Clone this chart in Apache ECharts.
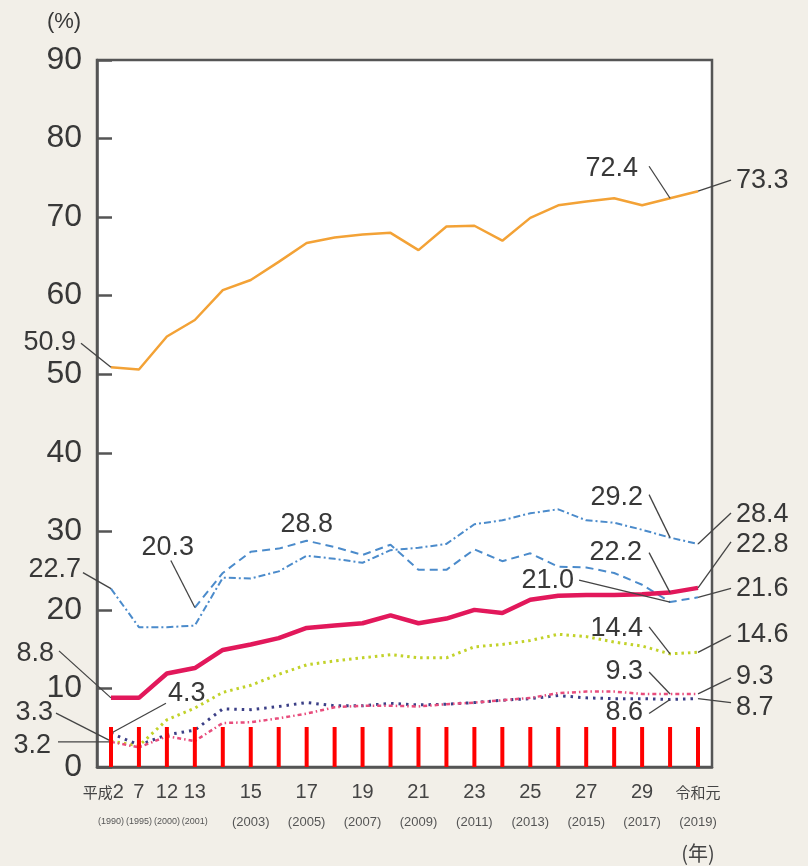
<!DOCTYPE html>
<html>
<head>
<meta charset="utf-8">
<script src="https://cdn.jsdelivr.net/npm/echarts@6.0.0/dist/echarts.min.js"></script>
<style>
html, body { margin: 0; padding: 0; background: #f2efe8; }
#chart { width: 808px; height: 866px; }
</style>
</head>
<body>
<div id="chart"></div>
<script>
// 年（カテゴリ）
const years = ['1990', '1995', '2000', '2001', '2002', '2003', '2004', '2005', '2006', '2007', '2008',
  '2009', '2010', '2011', '2012', '2013', '2014', '2015', '2016', '2017', '2018', '2019']
const eraLabels = ['平成2', '7', '12', '13', '14', '15', '16', '17', '18', '19', '20',
  '21', '22', '23', '24', '25', '26', '27', '28', '29', '30', '令和元']
const shownIdx = [0, 1, 2, 3, 5, 7, 9, 11, 13, 15, 17, 19, 21]
const yTicks = [0, 10, 20, 30, 40, 50, 60, 70, 80, 90]

// 系列データ (%)
const orange = [50.9, 50.6, 54.8, 56.9, 60.7, 62.0, 64.3, 66.7, 67.4, 67.8, 68.0, 65.8, 68.8, 68.9, 67.0, 69.9, 71.5, 72.0, 72.4, 71.5, 72.4, 73.3]
const blueA = [22.7, 17.8, 17.8, 18.0, 24.1, 24.0, 24.9, 26.9, 26.5, 26.0, 27.6, 27.9, 28.4, 30.9, 31.4, 32.3, 32.8, 31.4, 31.1, 30.2, 29.2, 28.4]
const blueB = [null, null, null, 20.3, 24.7, 27.4, 27.8, 28.8, 28.0, 27.0, 28.3, 25.1, 25.1, 27.7, 26.2, 27.2, 25.5, 25.4, 24.7, 23.2, 21.0, 21.6]
const red = [8.8, 8.8, 11.9, 12.6, 14.9, 15.6, 16.4, 17.7, 18.0, 18.3, 19.3, 18.3, 18.9, 20.0, 19.6, 21.3, 21.8, 21.9, 21.9, 22.0, 22.2, 22.8]
const green = [3.3, 2.7, 6.0, 7.5, 9.5, 10.4, 11.8, 13.0, 13.5, 13.9, 14.3, 13.9, 13.9, 15.3, 15.6, 16.1, 16.9, 16.6, 15.9, 15.4, 14.4, 14.6]
const navy = [4.3, 2.8, 4.1, 4.7, 7.4, 7.3, 7.7, 8.2, 7.8, 7.8, 8.1, 7.9, 8.0, 8.2, 8.5, 8.7, 9.1, 8.8, 8.7, 8.7, 8.6, 8.7]
const pink = [3.2, 2.5, 3.9, 3.3, 5.6, 5.7, 6.2, 6.8, 7.6, 7.8, 7.8, 7.7, 8.0, 8.2, 8.5, 8.8, 9.4, 9.6, 9.6, 9.3, 9.3, 9.3]

const seriesData = [orange, blueA, blueB, red, green, navy, pink]

// 注記（系列番号, 年の位置, ラベルのずらし, 引き出し線の端）
const notes = [
  { s: 0, i: 0, dx: -35, dy: -25, align: 'right', lx: -30, ly: -24 },
  { s: 0, i: 20, dx: -32, dy: -30, align: 'right', lx: -21, ly: -32 },
  { s: 0, i: 21, dx: 38, dy: -11, align: 'left', lx: 33, ly: -11 },
  { s: 2, i: 7, dx: 0, dy: -16, align: 'center' },
  { s: 2, i: 3, dx: -27, dy: -60, align: 'center', lx: -24, ly: -47 },
  { s: 1, i: 0, dx: -30, dy: -19, align: 'right', lx: -28, ly: -16 },
  { s: 3, i: 0, dx: -57, dy: -44, align: 'right', lx: -52, ly: -47 },
  { s: 5, i: 0, dx: 57, dy: -40, align: 'left', lx: 55, ly: -30 },
  { s: 4, i: 0, dx: -58, dy: -29, align: 'right', lx: -55, ly: -28 },
  { s: 6, i: 0, dx: -60, dy: 4, align: 'right', lx: -53, ly: 0 },
  { s: 1, i: 20, dx: -27, dy: -40, align: 'right', lx: -21, ly: -43 },
  { s: 1, i: 21, dx: 38, dy: -29, align: 'left', lx: 33, ly: -31 },
  { s: 3, i: 20, dx: -28, dy: -40, align: 'right', lx: -21, ly: -40 },
  { s: 3, i: 21, dx: 38, dy: -43, align: 'left', lx: 33, ly: -46 },
  { s: 2, i: 20, dx: -96, dy: -21, align: 'right', lx: -91, ly: -22 },
  { s: 2, i: 21, dx: 38, dy: -9, align: 'left', lx: 33, ly: -9 },
  { s: 4, i: 20, dx: -27, dy: -25, align: 'right', lx: -21, ly: -27 },
  { s: 4, i: 21, dx: 38, dy: -18, align: 'left', lx: 33, ly: -17 },
  { s: 6, i: 20, dx: -27, dy: -22, align: 'right', lx: -21, ly: -22 },
  { s: 5, i: 20, dx: -27, dy: 13, align: 'right', lx: -21, ly: 14 },
  { s: 6, i: 21, dx: 38, dy: -17, align: 'left', lx: 33, ly: -16 },
  { s: 5, i: 21, dx: 38, dy: 9, align: 'left', lx: 33, ly: 4 }
]

const axisColor = '#555'
const textColor = '#383838'
const latin = '"Liberation Sans", "Noto Sans CJK JP", sans-serif'
const cjk = '"Noto Sans CJK JP"'

function lineSeries(name, data, color, width, type, z) {
  return {
    name: name,
    type: 'line',
    data: data,
    symbol: 'none',
    connectNulls: false,
    animation: false,
    z: z,
    lineStyle: { color: color, width: width, type: type }
  }
}

function showLabel(idx) {
  return shownIdx.indexOf(idx) >= 0
}

const chart = echarts.init(document.getElementById('chart'))

chart.setOption({
  backgroundColor: '#f2efe8',
  grid: {
    left: 97,
    right: 96,
    top: 60,
    bottom: 99,
    show: true,
    backgroundColor: '#fff',
    borderColor: axisColor,
    borderWidth: 2.5
  },
  xAxis: [{
    type: 'category',
    data: years,
    boundaryGap: true,
    axisLine: { show: true, lineStyle: { color: axisColor, width: 2.5 } },
    axisTick: { show: false },
    axisLabel: {
      interval: showLabel,
      margin: 13,
      formatter: function(val, idx) {
        if (idx === 0) return ''
        if (idx === years.length - 1) return '{h|' + eraLabels[idx] + '}'
        return '{n|' + eraLabels[idx] + '}'
      },
      rich: {
        h: { fontSize: 15, lineHeight: 24, fontFamily: cjk, color: '#444' },
        n: { fontSize: 20, lineHeight: 24, fontFamily: latin, color: '#444' }
      }
    },
    splitLine: { show: false }
  }, {
    type: 'category',
    data: years,
    boundaryGap: true,
    position: 'bottom',
    axisLine: { show: false },
    axisTick: { show: false },
    axisLabel: {
      interval: showLabel,
      margin: 47,
      formatter: function(val, idx) {
        return (idx <= 3 ? '{s|(' : '{y|(') + val + ')}'
      },
      rich: {
        s: { fontSize: 9, lineHeight: 16, fontFamily: latin, color: '#555' },
        y: { fontSize: 13, lineHeight: 16, fontFamily: latin, color: '#555' }
      }
    },
    splitLine: { show: false }
  }],
  yAxis: {
    type: 'value',
    min: yTicks[0],
    max: yTicks[yTicks.length - 1],
    interval: 10,
    axisLine: { show: true, lineStyle: { color: axisColor, width: 2.5 } },
    axisTick: { show: true, inside: true, length: 15, lineStyle: { color: axisColor, width: 2.5 } },
    axisLabel: { fontSize: 32, color: textColor, fontFamily: latin, margin: 15 },
    splitLine: { show: false }
  },
  series: [
    lineSeries('orange', orange, '#f3a236', 2.5, 'solid', 3),
    lineSeries('blueA', blueA, '#4b8bcb', 2, [7, 3, 2, 3], 3),
    lineSeries('blueB', blueB, '#4b8bcb', 2, [8, 5], 3),
    lineSeries('red', red, '#e2185b', 4.5, 'solid', 4),
    lineSeries('green', green, '#c2d22a', 3, [2.5, 4], 3),
    lineSeries('navy', navy, '#3b3f86', 3, [2.5, 5], 3),
    lineSeries('pink', pink, '#e84c7c', 2.5, [4, 3, 1.5, 3], 3)
  ]
})

const elems = []

// 目盛りの確認用（赤・長め）
years.forEach(function(yr, i) {
  const p = chart.convertToPixel({ seriesIndex: 0 }, [i, 0])
  elems.push({
    id: 'tick' + i,
    type: 'rect',
    z: 120,
    shape: { x: p[0] - 2, y: p[1] - 40, width: 4, height: 40 },
    style: { fill: '#ff0000' }
  })
})

const first = chart.convertToPixel({ seriesIndex: 0 }, [0, 0])
elems.push({
  type: 'text', x: first[0] + 13, y: first[1] + 25,
  style: {
    text: '{h|平成}{n|2}',
    align: 'right', verticalAlign: 'middle', textAlign: 'right', textVerticalAlign: 'middle',
    rich: {
      h: { fontSize: 15, fontFamily: cjk, fill: '#444', color: '#444' },
      n: { fontSize: 20, fontFamily: latin, fill: '#444', color: '#444' }
    }
  }
})

notes.forEach(function(n) {
  const v = seriesData[n.s][n.i]
  const p = chart.convertToPixel({ seriesIndex: n.s }, [n.i, v])
  if (n.lx !== undefined) {
    elems.push({
      type: 'line',
      z: 100,
      shape: { x1: p[0], y1: p[1], x2: p[0] + n.lx, y2: p[1] + n.ly },
      style: { stroke: '#444', lineWidth: 1.3 }
    })
  }
  elems.push({
    type: 'text',
    z: 100,
    x: p[0] + n.dx,
    y: p[1] + n.dy,
    style: {
      text: v.toFixed(1),
      font: '27px "Liberation Sans"',
      fill: textColor,
      align: n.align,
      verticalAlign: 'middle',
      textAlign: n.align,
      textVerticalAlign: 'middle'
    }
  })
})

const last = chart.convertToPixel({ seriesIndex: 0 }, [years.length - 1, 0])
elems.push({
  type: 'text', x: last[0], y: 853,
  style: { text: '(年)', font: '20px "Noto Sans CJK JP"', fill: '#444', align: 'center', verticalAlign: 'middle', textAlign: 'center', textVerticalAlign: 'middle' }
})
elems.push({
  type: 'text', x: 64, y: 22,
  style: { text: '(%)', font: '22px "Liberation Sans"', fill: textColor, align: 'center', verticalAlign: 'middle', textAlign: 'center', textVerticalAlign: 'middle' }
})

chart.setOption({ graphic: { elements: elems } })
</script>
</body>
</html>
